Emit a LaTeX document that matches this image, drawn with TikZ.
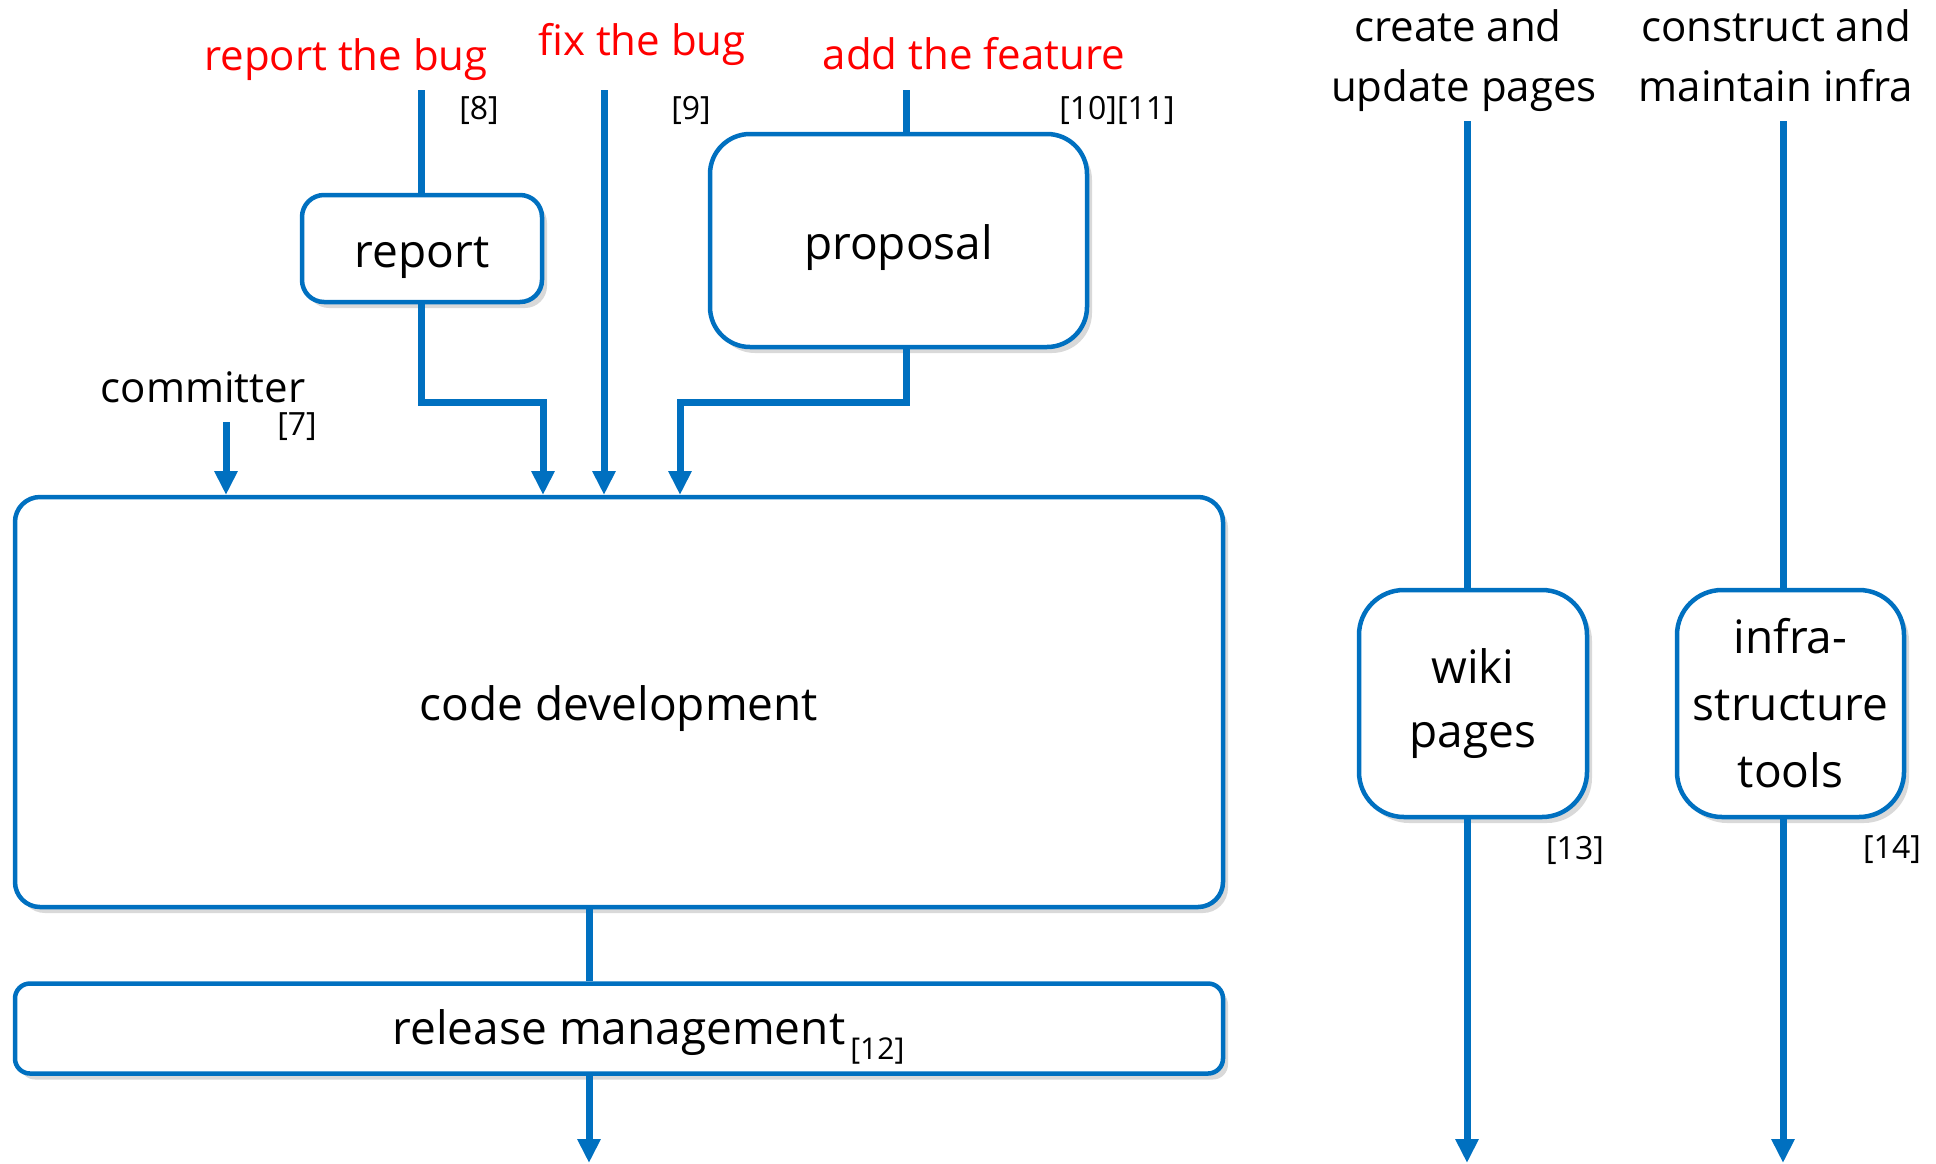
\documentclass[tikz,border=0pt]{standalone}
\usepackage{fontspec}
\setmainfont{Open Sans}
\usetikzlibrary{shadows,arrows.meta,calc}
\definecolor{dblue}{HTML}{0070C0}
\definecolor{lred}{HTML}{FF0000}
\newcommand{\basedown}[2]{\raisebox{-#1}[0pt][0pt]{#2}}
\begin{document}
\begin{tikzpicture}[x=1pt,y=-1pt,
 box/.style={draw=dblue, line width=4.5pt, fill=white, rounded corners=#1,
   drop shadow={shadow xshift=5pt, shadow yshift=-6pt, opacity=0.3},
   inner sep=0pt, font=\fontsize{46}{67}\selectfont, align=center},
 box/.default=20pt,
 conn/.style={draw=dblue, line width=7pt},
 arr/.style={conn, -{Triangle[length=24pt,width=22pt]}},
 lbl/.style={font=\fontsize{42}{50}\selectfont, anchor=base, inner sep=0pt},
 redlbl/.style={lbl, text=lred},
 ref/.style={font=\fontsize{32}{38}\selectfont, inner sep=0pt},
]
\useasboundingbox (0,0) rectangle (1936,1163);

% boxes
\node[box=22pt, minimum width=240pt, minimum height=107pt] (report) at (422,248.5) {\basedown{18.5pt}{report}};
\node[box=40pt, minimum width=377pt, minimum height=213pt] (proposal) at (898.5,240.5) {\basedown{18.5pt}{proposal}};
\node[box=25pt, minimum width=1208pt, minimum height=410pt] (codedev) at (619,702) {\basedown{18pt}{code development}};
\node[box=15pt, minimum width=1208pt, minimum height=90pt] (release) at (619,1028.5)
  {\basedown{16pt}{release management\rlap{\fontsize{30}{36}\selectfont\raisebox{-15pt}{\,[12]}}}};
\node[box=45pt, minimum width=228pt, minimum height=227pt] (wiki) at (1473,703.5)
  {\basedown{43.5pt}{\fontsize{46}{64}\selectfont\begin{tabular}[b]{@{}c@{}}wiki\\pages\end{tabular}}};
\node[box=45pt, minimum width=227pt, minimum height=227pt] (infra) at (1790.5,703.5) {infra-\\structure\\tools};

% coordinates
\coordinate (rtop) at (421,90);
\coordinate (ftop) at (604,90);
\coordinate (ptop) at (906,90);
\coordinate (ctop) at (226,422);
\coordinate (in1) at (226,495);
\coordinate (mid1) at (543,402);
\coordinate (in2) at (543,495);
\coordinate (in3) at (604,495);
\coordinate (mid2) at (680,402);
\coordinate (in4) at (680,495);
\coordinate (relx) at (589,0);
\coordinate (rbot) at (589,1163);
\coordinate (wtop) at (1467,121);
\coordinate (itop) at (1783,121);
\coordinate (wbot) at (1467,1163);
\coordinate (ibot) at (1783,1163);

% connectors
\draw[conn] (rtop) -- (rtop |- report.north);
\draw[arr] (rtop |- report.south) |- (mid1) -- (in2);
\draw[arr] (ftop) -- (in3);
\draw[conn] (ptop) -- (ptop |- proposal.north);
\draw[arr] (ptop |- proposal.south) |- (mid2) -- (in4);
\draw[arr] (ctop) -- (in1);
\draw[conn] (relx |- codedev.south) -- (relx |- release.north);
\draw[arr] (relx |- release.south) -- (rbot);
\draw[conn] (wtop) -- (wtop |- wiki.north);
\draw[arr] (wtop |- wiki.south) -- (wbot);
\draw[conn] (itop) -- (itop |- infra.north);
\draw[arr] (itop |- infra.south) -- (ibot);

% labels
\node[redlbl] (lrep) at (346,70) {report the bug};
\node[redlbl] (lfix) at (642,55) {fix the bug};
\node[redlbl] (ladd) at (974,69) {add the feature};
\node[lbl] (lcr1) at (1458,41) {create and};
\node[lbl] (lcr2) at (1464,101) {update pages};
\node[lbl] (lco1) at (1776,41) {construct and};
\node[lbl] (lco2) at (1776,101) {maintain infra};
\node[lbl] (lcom) at (203,402) {committer};

\node[ref] (r7) at (297,427) {[7]};
\node[ref] (r8) at (479,110) {[8]};
\node[ref] (r9) at (691,110) {[9]};
\node[ref] (r1011) at (1117,110) {[10][11]};
\node[ref] (r13) at (1575,850) {[13]};
\node[ref] (r14) at (1892,850) {[14]};
\end{tikzpicture}
\end{document}
